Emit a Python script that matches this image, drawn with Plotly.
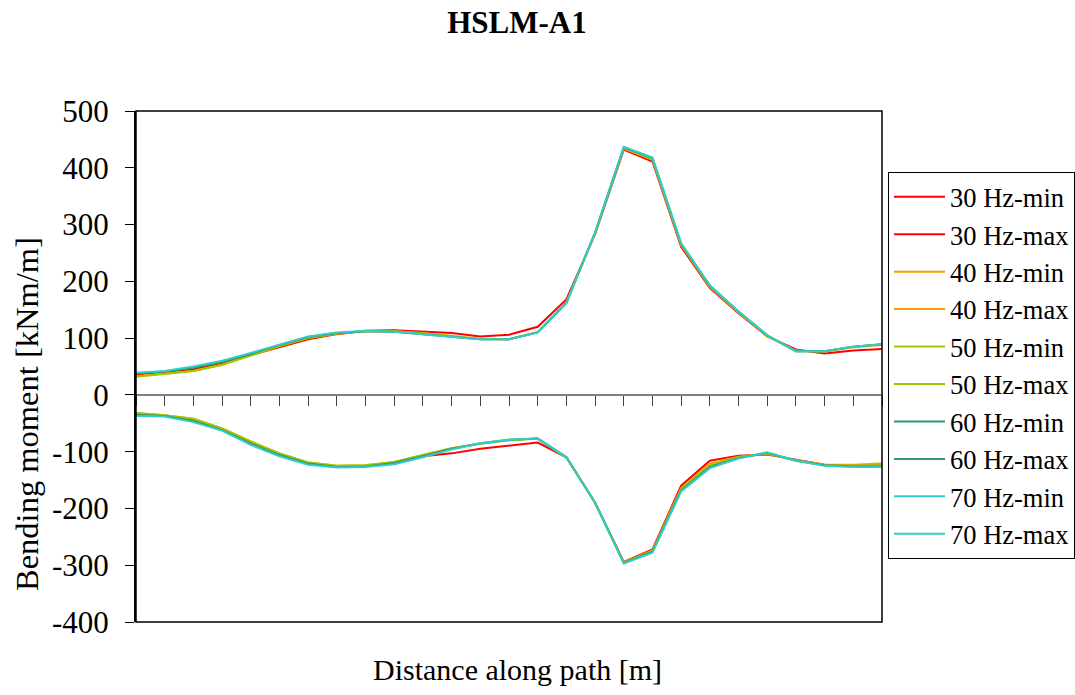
import plotly.graph_objects as go

# Section positions along the path (unlabelled categories)
positions = list(range(27))

# Envelope of bending moment [kNm/m] for each excitation frequency
max_30 = [36, 40, 45, 56, 70, 85, 98, 107, 113, 114, 112, 109, 103, 106, 120, 168, 283, 432, 411, 261, 188, 144, 103, 80, 73, 78, 81]
max_40 = [33, 37, 42, 53, 70, 86, 100, 108, 112, 112, 109, 104, 99, 98, 111, 163, 285, 434, 414, 264, 190, 145, 104, 78, 76, 84, 88]
max_50 = [32, 37, 42, 53, 70, 86, 100, 108, 112, 112, 108, 103, 98, 98, 110, 162, 285, 435, 415, 265, 191, 146, 104, 77, 77, 85, 89]
max_60 = [38, 41, 48, 58, 72, 88, 102, 109, 112, 111, 107, 102, 98, 98, 110, 162, 286, 436, 417, 266, 192, 147, 105, 77, 77, 85, 89]
max_70 = [39, 42, 50, 60, 74, 89, 103, 110, 113, 111, 107, 102, 98, 98, 110, 162, 286, 437, 418, 267, 193, 147, 105, 77, 77, 85, 89]

min_30 = [-35, -37, -45, -61, -84, -104, -120, -126, -125, -119, -108, -103, -95, -90, -84, -110, -190, -294, -272, -160, -116, -107, -105, -114, -123, -124, -124]
min_40 = [-32, -36, -42, -59, -82, -103, -119, -125, -124, -118, -106, -94, -86, -80, -77, -110, -190, -295, -274, -164, -121, -109, -104, -115, -123, -123, -121]
min_50 = [-32, -36, -42, -59, -82, -103, -119, -125, -124, -118, -106, -94, -86, -80, -77, -110, -190, -295, -275, -166, -124, -110, -103, -115, -124, -125, -124]
min_60 = [-35, -37, -46, -62, -86, -106, -121, -127, -126, -120, -108, -95, -85, -79, -77, -110, -190, -296, -276, -168, -127, -111, -102, -116, -124, -126, -126]
min_70 = [-37, -38, -48, -63, -88, -108, -123, -128, -127, -122, -110, -96, -85, -79, -77, -110, -190, -297, -278, -170, -129, -112, -101, -116, -125, -127, -127]

frequencies = ["30 Hz", "40 Hz", "50 Hz", "60 Hz", "70 Hz"]
colors = ["#FF0000", "#FF9900", "#99CC00", "#339966", "#33CCCC"]
min_series = [min_30, min_40, min_50, min_60, min_70]
max_series = [max_30, max_40, max_50, max_60, max_70]

# value-axis ticks, labelled with a plain hyphen for negatives
y_ticks = [-400, -300, -200, -100, 0, 100, 200, 300, 400, 500]
y_tick_labels = ["-400", "-300", "-200", "-100", "0", "100", "200", "300", "400", "500"]

y_min, y_max = y_ticks[0], y_ticks[-1]
FONT = "Liberation Serif, Times New Roman, serif"

fig = go.Figure()
for freq, color, lo, hi in zip(frequencies, colors, min_series, max_series):
    fig.add_trace(go.Scatter(x=positions, y=lo, mode="lines", name=f"{freq}-min",
                             line=dict(color=color, width=2)))
    fig.add_trace(go.Scatter(x=positions, y=hi, mode="lines", name=f"{freq}-max",
                             line=dict(color=color, width=2)))

# paper-height fraction where the value axis crosses zero
zero_frac = (0 - y_min) / (y_max - y_min)

fig.update_layout(
    width=1075, height=695, autosize=False,
    margin=dict(l=136, r=193, t=111, b=73, autoexpand=False),
    paper_bgcolor="white", plot_bgcolor="white",
    font=dict(family=FONT, size=30, color="black"),
    title=dict(text="<b>HSLM-A1</b>", x=517 / 1075, xanchor="center",
               y=1 - 22 / 695, yanchor="middle",
               font=dict(family=FONT, size=31, color="black")),
    xaxis=dict(range=[positions[0], positions[-1]], tick0=0, dtick=1,
               anchor="free", position=zero_frac,
               showline=True, linecolor="#808080", linewidth=1.5,
               ticks="outside", ticklen=10, tickwidth=1, tickcolor="#404040",
               showticklabels=False, showgrid=False, zeroline=False),
    yaxis=dict(range=[y_min, y_max], tickmode="array",
               tickvals=y_ticks, ticktext=y_tick_labels,
               showline=True, linecolor="black", linewidth=2,
               ticks="outside", ticklen=9, tickwidth=1, tickcolor="black",
               ticklabelstandoff=10,
               showgrid=False, zeroline=False,
               tickfont=dict(family=FONT, size=31, color="black")),
    legend=dict(x=(888 - 136) / 746, xanchor="left",
                y=(622 - 172) / 511, yanchor="top",
                bordercolor="black", borderwidth=1, bgcolor="white",
                font=dict(family=FONT, size=26.5, color="black"),
                itemwidth=51, tracegroupgap=0),
    shapes=[dict(type="rect", xref="paper", yref="paper", x0=0, x1=1, y0=0, y1=1,
                 line=dict(color="black", width=1.5), layer="above")],
    annotations=[
        dict(text="Bending moment [kNm/m]", xref="paper", yref="paper",
             x=(27 - 136) / 746, y=(622 - 414) / 511, textangle=-90,
             xanchor="center", yanchor="middle", showarrow=False,
             font=dict(family=FONT, size=32.5, color="black")),
        dict(text="Distance along path [m]", xref="paper", yref="paper",
             x=(517 - 136) / 746, y=(622 - 669) / 511,
             xanchor="center", yanchor="middle", showarrow=False,
             font=dict(family=FONT, size=30, color="black")),
    ],
)

fig.write_html("out.html")
